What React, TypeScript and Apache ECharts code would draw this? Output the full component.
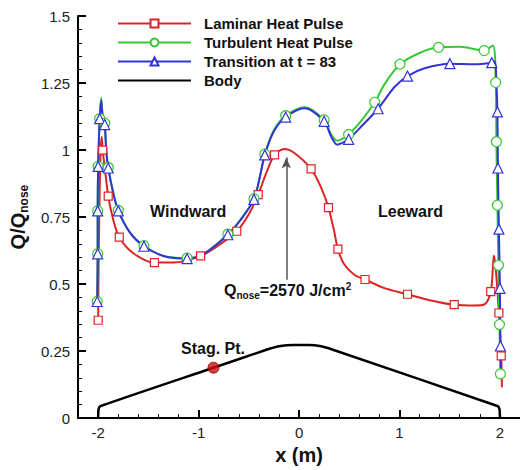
import React, { useEffect, useRef } from 'react';
import * as echarts from 'echarts';

const FONT = '"Liberation Sans", Arial, Helvetica, sans-serif';

const RED = '#dc2424';
const GREEN = '#35c935';
const BLUE = '#3434d6';

const seriesNames = ['Laminar Heat Pulse', 'Turbulent Heat Pulse', 'Transition at t = 83', 'Body'];

// [x, Q/Qnose, marker?]
const laminarPts = [
  [-2.0, 0.365, 1], [-1.995, 0.6, 0], [-1.985, 0.85, 0], [-1.975, 1.0, 0], [-1.965, 1.05, 0],
  [-1.955, 1.0, 1], [-1.93, 0.92, 0], [-1.9, 0.828, 1], [-1.85, 0.74, 0], [-1.79, 0.675, 1],
  [-1.65, 0.615, 0], [-1.44, 0.58, 1], [-1.25, 0.58, 0], [-0.98, 0.605, 1], [-0.8, 0.645, 0],
  [-0.62, 0.697, 1], [-0.5, 0.76, 0], [-0.407, 0.834, 1], [-0.32, 0.92, 0], [-0.244, 0.982, 1],
  [-0.146, 1.004, 0], [-0.05, 0.99, 0], [0.12, 0.93, 1], [0.22, 0.86, 0], [0.293, 0.785, 1],
  [0.348, 0.7, 0], [0.387, 0.63, 1], [0.446, 0.576, 0], [0.55, 0.535, 0], [0.657, 0.517, 1],
  [0.85, 0.485, 0], [1.08, 0.462, 1], [1.3, 0.44, 0], [1.545, 0.423, 1], [1.75, 0.42, 0],
  [1.85, 0.425, 0], [1.909, 0.472, 1], [1.93, 0.56, 0], [1.94, 0.607, 0], [1.96, 0.55, 0],
  [1.99, 0.392, 1], [2.013, 0.232, 1], [2.02, 0.115, 0],
];

const turbulentPts = [
  [-2.01, 0.435, 1], [-2.005, 0.613, 1], [-2.005, 0.773, 1], [-2.0, 0.939, 1], [-1.985, 1.117, 1],
  [-1.97, 1.195, 0], [-1.955, 1.13, 0], [-1.935, 1.1, 1], [-1.92, 1.0, 0], [-1.9, 0.935, 1],
  [-1.85, 0.84, 0], [-1.8, 0.775, 1], [-1.68, 0.69, 0], [-1.544, 0.643, 1], [-1.35, 0.605, 0],
  [-1.115, 0.597, 1], [-0.95, 0.613, 0], [-0.709, 0.686, 1], [-0.58, 0.742, 0], [-0.449, 0.818, 1],
  [-0.39, 0.9, 0], [-0.341, 0.985, 1], [-0.25, 1.075, 0], [-0.133, 1.128, 1], [0.055, 1.16, 0],
  [0.25, 1.112, 1], [0.32, 1.058, 0], [0.38, 1.035, 0], [0.45, 1.045, 0], [0.494, 1.058, 1],
  [0.6, 1.1, 0], [0.754, 1.178, 1], [0.85, 1.245, 0], [1.005, 1.32, 1], [1.2, 1.362, 0],
  [1.389, 1.383, 1], [1.6, 1.385, 0], [1.844, 1.371, 1], [1.93, 1.39, 0], [1.958, 1.252, 1],
  [1.965, 1.031, 1], [1.975, 0.794, 1], [1.985, 0.57, 1], [1.995, 0.349, 1], [2.005, 0.165, 1],
];

const transitionPts = [
  [-2.01, 0.435, 1], [-2.005, 0.613, 1], [-2.005, 0.773, 1], [-2.0, 0.939, 1], [-1.985, 1.117, 1],
  [-1.97, 1.184, 0], [-1.955, 1.12, 0], [-1.935, 1.095, 1], [-1.92, 1.0, 0], [-1.9, 0.933, 1],
  [-1.85, 0.84, 0], [-1.8, 0.773, 1], [-1.68, 0.69, 0], [-1.544, 0.641, 1], [-1.35, 0.605, 0],
  [-1.115, 0.595, 1], [-0.95, 0.612, 0], [-0.709, 0.684, 1], [-0.58, 0.74, 0], [-0.449, 0.816, 1],
  [-0.39, 0.9, 0], [-0.341, 0.982, 1], [-0.25, 1.07, 0], [-0.133, 1.123, 1], [0.055, 1.156, 0],
  [0.25, 1.107, 1], [0.32, 1.05, 0], [0.38, 1.02, 0], [0.45, 1.03, 0], [0.494, 1.04, 1],
  [0.6, 1.08, 0], [0.787, 1.154, 1], [0.95, 1.235, 0], [1.08, 1.276, 1], [1.25, 1.305, 0],
  [1.502, 1.322, 1], [1.75, 1.32, 0], [1.919, 1.326, 1], [1.95, 1.33, 0], [1.965, 1.25, 0],
  [1.975, 1.142, 1], [1.98, 0.933, 1], [1.99, 0.705, 1], [2.0, 0.484, 1], [2.005, 0.269, 1],
  [2.01, 0.158, 0],
];

const bodyPts = [
  [-2.0, 0.005], [-1.995, 0.035], [-1.975, 0.045], [-0.852, 0.188], [-0.34, 0.253],
  [-0.2, 0.268], [-0.05, 0.273], [0.1, 0.273], [0.22, 0.268], [0.33, 0.256],
  [1.975, 0.045], [1.995, 0.035], [2.0, 0.005],
];

const stagPoint = [[-0.852, 0.188]];
const arrowFrom = [-0.127, 0.516];
const arrowTo = [-0.127, 0.972];
const xMajorTicks = [-2, -1, 0, 1, 2];

function toData(pts: number[][], sym: string) {
  return pts.map((p) => ({ value: [p[0], p[1]], symbol: p[2] ? sym : 'none' }));
}

export default function App() {
  const ref = useRef<HTMLDivElement>(null);
  useEffect(() => {
    if (!ref.current) return;
    const chart = echarts.init(ref.current, null, { renderer: 'svg' });
    const mk = (name: string, color: string, pts: number[][], sym: string, size: number) => ({
      name,
      type: 'line',
      data: toData(pts, sym),
      symbol: sym,
      symbolSize: size,
      showAllSymbol: true,
      smooth: 0.3,
      color,
      lineStyle: { color, width: 2 },
      itemStyle: { color: '#fff', borderColor: color, borderWidth: 1.2 },
      xAxisIndex: 0,
      yAxisIndex: 0,
      z: 3,
    });
    const option: any = {
      animation: false,
      backgroundColor: '#fff',
      textStyle: { fontFamily: FONT },
      grid: { left: 76, right: -7, top: 16, bottom: 47, containLabel: false },
      legend: {
        data: [
          seriesNames[0],
          seriesNames[1],
          seriesNames[2],
          { name: seriesNames[3], itemStyle: { opacity: 0 } },
        ],
        orient: 'vertical',
        left: 117,
        top: 16,
        padding: 0,
        itemWidth: 73,
        itemHeight: 10,
        itemGap: 4,
        selectedMode: false,
        textStyle: { fontFamily: FONT, fontSize: 15, fontWeight: 'bold', color: '#111', padding: [0, 0, 0, 8], lineHeight: 15 },
      },
      xAxis: [
        {
          type: 'value', min: -2.2, max: 2.2, interval: 0.2,
          axisLine: { show: true, onZero: false, lineStyle: { color: '#000', width: 2 } },
          axisTick: { show: true, inside: true, length: 4, lineStyle: { color: '#000', width: 1 } },
          axisLabel: { show: false },
          splitLine: { show: false },
        },
        {
          type: 'value', min: -2.2, max: 2.2, position: 'bottom',
          axisLine: { show: false, onZero: false },
          axisTick: { show: true, inside: true, length: 8, customValues: xMajorTicks, lineStyle: { color: '#000', width: 2 } },
          axisLabel: { show: true, customValues: xMajorTicks, fontSize: 15, color: '#222', fontFamily: FONT, margin: 7 },
          splitLine: { show: false },
          name: 'x (m)',
          nameLocation: 'middle',
          nameGap: 25,
          nameTextStyle: { fontSize: 20, fontWeight: 'bold', color: '#111', fontFamily: FONT },
        },
      ],
      yAxis: {
        type: 'value', min: 0, max: 1.5, interval: 0.25,
        axisLine: { show: true, onZero: false, lineStyle: { color: '#000', width: 2 } },
        axisTick: { show: true, inside: true, length: 8, lineStyle: { color: '#000', width: 2 } },
        minorTick: { show: true, splitNumber: 5, length: 4, lineStyle: { color: '#000', width: 1 } },
        axisLabel: { fontSize: 15, color: '#222', fontFamily: FONT, margin: 8 },
        splitLine: { show: false },
        name: '{a|Q/Q}{b|nose}',
        nameLocation: 'middle',
        nameRotate: 90,
        nameGap: 40,
        nameTextStyle: {
          rich: {
            a: { fontSize: 20, fontWeight: 'bold', color: '#111', fontFamily: FONT },
            b: { fontSize: 12, fontWeight: 'bold', color: '#111', fontFamily: FONT, padding: [12, 0, 0, 0] },
          },
        },
      },
      series: [
        mk(seriesNames[0], RED, laminarPts, 'rect', 8),
        mk(seriesNames[1], GREEN, turbulentPts, 'circle', 10),
        mk(seriesNames[2], BLUE, transitionPts, 'triangle', 10),
        {
          name: seriesNames[3],
          type: 'line',
          data: bodyPts,
          symbol: 'none',
          smooth: 0.2,
          color: '#000',
          lineStyle: { color: '#000', width: 2.5 },
          z: 2,
          markLine: {
            silent: true,
            symbol: ['none', 'arrow'],
            symbolSize: [7, 11],
            label: { show: false },
            lineStyle: { color: '#555', width: 1.5, type: 'solid' },
            data: [[{ coord: arrowFrom }, { coord: arrowTo }]],
          },
        },
        {
          name: 'Stag',
          type: 'scatter',
          data: stagPoint,
          symbol: 'circle',
          symbolSize: 11,
          itemStyle: { color: '#cc1010', borderColor: '#8a0000', borderWidth: 1 },
          z: 5,
        },
      ],
      graphic: [
        { type: 'text', left: 150, top: 203, style: { text: 'Windward', fontFamily: FONT, fontSize: 16, fontWeight: 'bold', fill: '#111' } },
        { type: 'text', left: 378, top: 203, style: { text: 'Leeward', fontFamily: FONT, fontSize: 16, fontWeight: 'bold', fill: '#111' } },
        { type: 'text', left: 181, top: 340, style: { text: 'Stag. Pt.', fontFamily: FONT, fontSize: 16, fontWeight: 'bold', fill: '#111' } },
        {
          type: 'text', left: 224, top: 281,
          style: {
            text: '{a|Q}{b|nose}{a|=2570 J/cm}{c|2}',
            rich: {
              a: { fontFamily: FONT, fontSize: 16, fontWeight: 'bold', fill: '#111' },
              b: { fontFamily: FONT, fontSize: 10, fontWeight: 'bold', fill: '#111', padding: [10, 0, 0, 0] },
              c: { fontFamily: FONT, fontSize: 10, fontWeight: 'bold', fill: '#111', padding: [0, 0, 8, 0] },
            },
          },
        },
      ],
    };
    chart.setOption(option);
    return () => chart.dispose();
  }, []);
  return <div ref={ref} style={{ position: 'absolute', left: 0, top: 0, width: 520, height: 470 }} />;
}
